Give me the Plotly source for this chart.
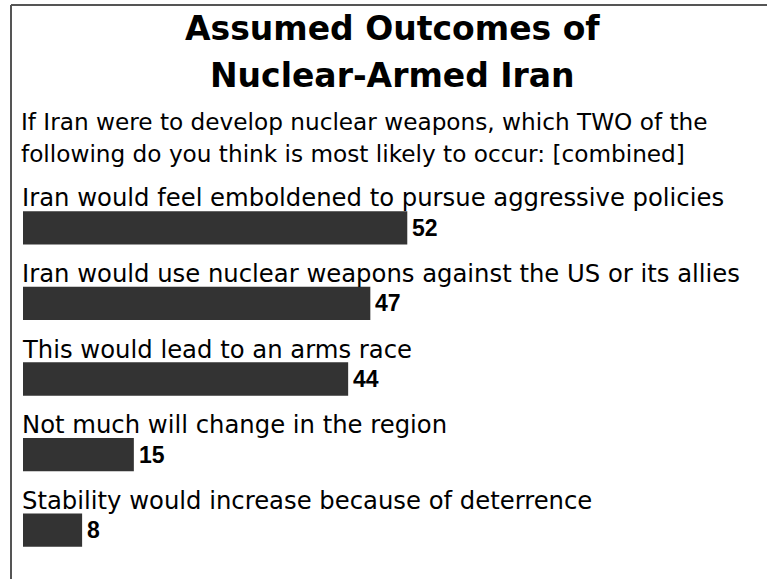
import plotly.graph_objects as go

# data
outcomes = [
    "Iran would feel emboldened to pursue aggressive policies",
    "Iran would use nuclear weapons against the US or its allies",
    "This would lead to an arms race",
    "Not much will change in the region",
    "Stability would increase because of deterrence",
]
percent = [52, 47, 44, 15, 8]

title_lines = ["Assumed Outcomes of", "Nuclear-Armed Iran"]
question_lines = [
    "If Iran were to develop nuclear weapons, which TWO of the",
    "following do you think is most likely to occur: [combined]",
]

W, H = 767, 579
L, R, T, B = 23, 5, 190, 11
PW, PH = W - L - R, H - T - B


def xp(px):
    return (px - L) / PW


def yp(px):
    return 1 + (T - px) / PH


FONT = "DejaVu Sans"

fig = go.Figure()
fig.add_trace(go.Bar(
    x=percent, y=outcomes, orientation="h",
    marker=dict(color="#333333", line=dict(width=0)),
    width=0.44, hoverinfo="skip",
))

for lab, val in zip(outcomes, percent):
    fig.add_annotation(x=0, y=lab, xref="x", yref="y", text=lab, showarrow=False,
                       xanchor="left", yanchor="middle", xshift=-3, yshift=30,
                       font=dict(family=FONT, size=24.3, color="black"))
    fig.add_annotation(x=val, y=lab, xref="x", yref="y", text="<b>%d</b>" % val,
                       showarrow=False, xanchor="left", yanchor="middle", xshift=3, yshift=0,
                       font=dict(family="Liberation Sans, Arial", size=23, color="black"))

for i, line in enumerate(title_lines):
    fig.add_annotation(x=0.5, y=yp([29, 76][i]), xref="paper", yref="paper",
                       text="<b>%s</b>" % line, showarrow=False,
                       xanchor="center", yanchor="middle",
                       font=dict(family=FONT, size=33, color="black"))

for i, line in enumerate(question_lines):
    fig.add_annotation(x=xp(19), y=yp([121, 153][i]), xref="paper", yref="paper",
                       text=line, showarrow=False, xanchor="left", yanchor="middle",
                       font=dict(family=FONT, size=23.2, color="black"))

# frame lines (top and left)
fig.add_shape(type="line", xref="paper", yref="paper",
              x0=xp(11), x1=xp(W + 5), y0=yp(5), y1=yp(5),
              line=dict(color="#555555", width=2))
fig.add_shape(type="line", xref="paper", yref="paper",
              x0=xp(11), x1=xp(11), y0=yp(5), y1=yp(H + 5),
              line=dict(color="#555555", width=2))

fig.update_layout(
    width=W, height=H,
    margin=dict(l=L, r=R, t=T, b=B),
    paper_bgcolor="white", plot_bgcolor="white",
    showlegend=False,
    xaxis=dict(range=[0, 100], visible=False, fixedrange=True),
    yaxis=dict(range=[len(outcomes) - 0.5, -0.5], visible=False, fixedrange=True),
)

fig.write_html("out.html", config={"displayModeBar": False},
               post_script="document.body.style.margin='0px';")
